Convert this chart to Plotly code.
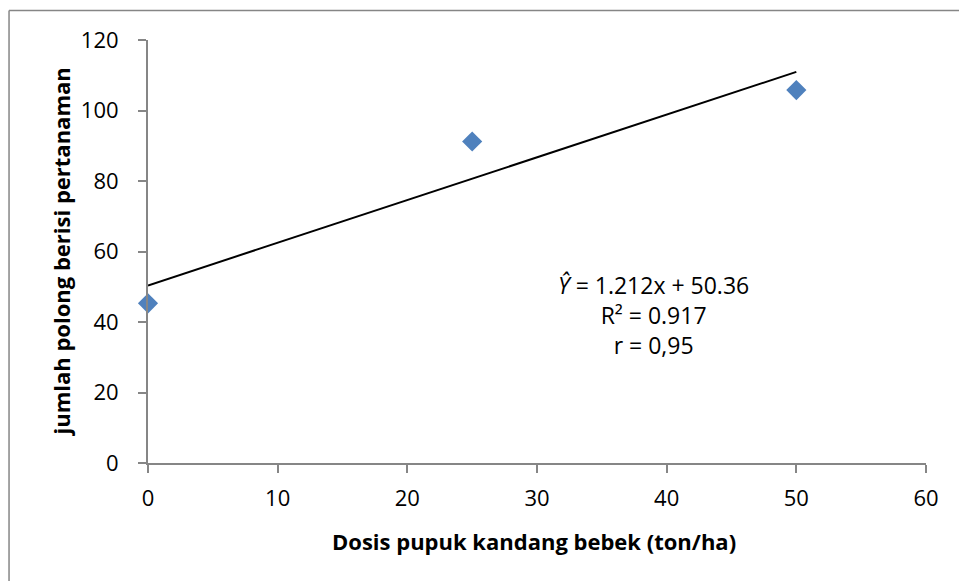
import plotly.graph_objects as go

dose = [0, 25, 50]
pods = [45.3, 91.2, 105.8]
slope = 1.212
intercept = 50.36
x_ticks = [0, 10, 20, 30, 40, 50, 60]
y_ticks = [0, 20, 40, 60, 80, 100, 120]

trend_x = [min(dose), max(dose)]
trend_y = [slope * v + intercept for v in trend_x]

FONT = "Open Sans"
W, H = 959, 581
L, T = 147.5, 40
R = W - 925.7
B = H - 463
pw, ph = W - L - R, H - T - B


def px(xp):  # page x -> paper
    return (xp - L) / pw


def py(yp):  # page y -> paper
    return (H - B - yp) / ph


fig = go.Figure()
fig.add_trace(go.Scatter(x=trend_x, y=trend_y, mode="lines", cliponaxis=False,
                         line=dict(color="black", width=2), showlegend=False, hoverinfo="skip"))
fig.add_trace(go.Scatter(x=dose, y=pods, mode="markers", cliponaxis=False,
                         marker=dict(symbol="diamond", size=15.5, color="#4F81BD",
                                     line=dict(width=0)), showlegend=False))

axis_common = dict(showline=True, linecolor="#868686", linewidth=2, ticks="outside",
                   ticklen=8, tickwidth=2, tickcolor="#868686", showgrid=False, zeroline=False,
                   tickfont=dict(family=FONT, size=22, color="black"))
fig.update_xaxes(range=[0, 60], tickvals=x_ticks, ticklabelstandoff=7, **axis_common)
fig.update_yaxes(range=[0, 120], tickvals=y_ticks, ticklabelstandoff=15, **axis_common)

fig.add_annotation(xref="paper", yref="paper", x=px(534), y=py(541),
                   xanchor="center", yanchor="middle",
                   text="<b>Dosis pupuk kandang bebek (ton/ha)</b>", showarrow=False,
                   font=dict(family=FONT, size=22, color="black"))
fig.add_annotation(xref="paper", yref="paper", x=px(60), y=py(252),
                   xanchor="center", yanchor="middle", textangle=-90,
                   text="<b>jumlah polong berisi pertanaman</b>", showarrow=False,
                   font=dict(family=FONT, size=22, color="black"))

fig.add_annotation(xref="paper", yref="paper",
                   x=px(653), y=py(315),
                   text="<i>Ŷ</i> = 1.212x + 50.36<br>R² = 0.917<br>r = 0,95",
                   showarrow=False, align="center",
                   font=dict(family=FONT, size=23, color="black"))

border = dict(color="#868686", width=1.5)
fig.add_shape(type="line", xref="paper", yref="paper",
              x0=px(8.5), x1=px(8.5), y0=py(10.5), y1=py(700), line=border, layer="below")
fig.add_shape(type="line", xref="paper", yref="paper",
              x0=px(8.5), x1=px(1100), y0=py(10.5), y1=py(10.5), line=border, layer="below")

fig.update_layout(width=W, height=H, margin=dict(l=L, r=R, t=T, b=B),
                  plot_bgcolor="white", paper_bgcolor="white",
                  font=dict(family=FONT, color="black"))
fig.write_html("out.html", config={"displayModeBar": False},
               post_script="document.body.style.margin='0';")
